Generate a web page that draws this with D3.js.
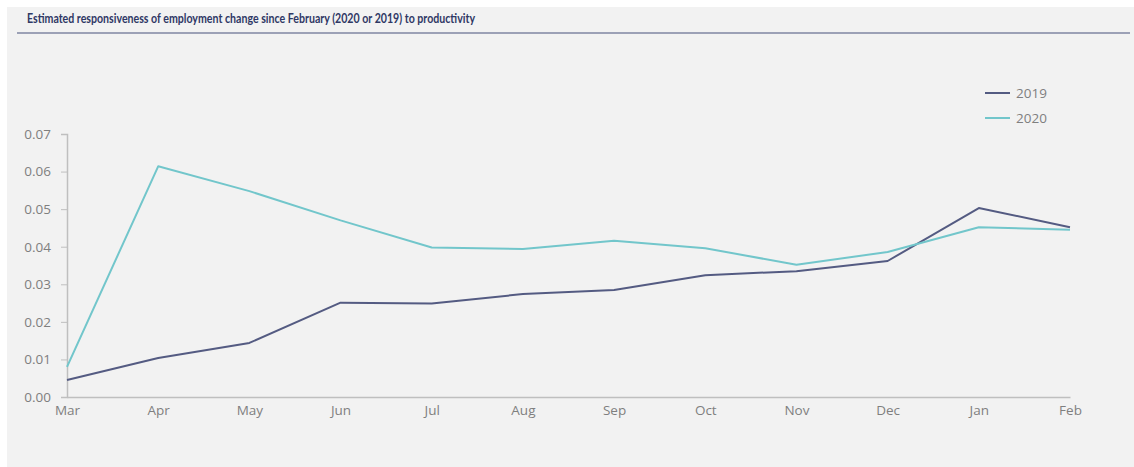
<!DOCTYPE html>
<html><head><meta charset="utf-8">
<script src="https://cdn.jsdelivr.net/npm/d3@7"></script>
<style>
html,body{margin:0;padding:0;background:#fff;}
svg{display:block;}
</style></head>
<body>
<script>
const months = ["Mar","Apr","May","Jun","Jul","Aug","Sep","Oct","Nov","Dec","Jan","Feb"];
const values2019 = [0.0045,0.0104,0.0144,0.0251,0.0249,0.0274,0.0285,0.0324,0.0335,0.0362,0.0503,0.0452];
const values2020 = [0.0080,0.0614,0.0548,0.0470,0.0398,0.0394,0.0416,0.0396,0.0352,0.0386,0.0452,0.0445];
const yTicks = [0,0.01,0.02,0.03,0.04,0.05,0.06,0.07];
const seriesNames = ["2019","2020"];
const seriesColors = ["#545b82","#72c6cb"];
const title = "Estimated responsiveness of employment change since February (2020 or 2019) to productivity";

const W=1134,H=467;
const svg=d3.select("body").append("svg").attr("width",W).attr("height",H);
svg.append("rect").attr("x",7).attr("y",7).attr("width",W-7).attr("height",H-7).attr("fill","#f2f2f2");
svg.append("text").attr("x",27).attr("y",23).text(title)
  .attr("font-family","Lato, 'Open Sans', sans-serif").attr("font-weight","bold").attr("font-size",12.5)
  .attr("textLength",448).attr("lengthAdjust","spacingAndGlyphs")
  .attr("fill","#2f3865");
svg.append("line").attr("x1",17).attr("x2",1130).attr("y1",33).attr("y2",33)
  .attr("stroke","#9ca1b6").attr("stroke-width",2);

const x=d3.scalePoint().domain(months).range([67,1070]);
const y=d3.scaleLinear().domain([0,0.07]).range([397,134]);

const font="'Open Sans', Lato, sans-serif";
const yAxis=svg.append("g").attr("transform","translate(67,0)")
  .call(d3.axisLeft(y).tickValues(yTicks).tickFormat(d3.format(".2f")).tickSize(6).tickPadding(10));
const xAxis=svg.append("g").attr("transform","translate(0,397)")
  .call(d3.axisBottom(x).tickSize(0).tickPadding(8));
[yAxis,xAxis].forEach(g=>{
  g.select(".domain").attr("stroke","#bfbfbf").attr("stroke-width",1.5);
  g.selectAll(".tick line").attr("stroke","#bfbfbf");
  g.selectAll("text").attr("font-family",font).attr("font-size",13.5).attr("fill","#7f7f7f");
});

const line=d3.line().x((d,i)=>x(months[i])).y(d=>y(d));
[values2019,values2020].forEach((vals,k)=>{
  svg.append("path").datum(vals).attr("d",line).attr("fill","none")
    .attr("stroke",seriesColors[k]).attr("stroke-width",2).attr("stroke-linejoin","round");
});

seriesNames.forEach((n,k)=>{
  const yy=93+k*25;
  svg.append("line").attr("x1",985).attr("x2",1010).attr("y1",yy).attr("y2",yy)
    .attr("stroke",seriesColors[k]).attr("stroke-width",2);
  svg.append("text").attr("x",1016).attr("y",yy+5).text(n)
    .attr("font-family",font).attr("font-size",13.5).attr("fill","#7f7f7f");
});
</script>
</body></html>
